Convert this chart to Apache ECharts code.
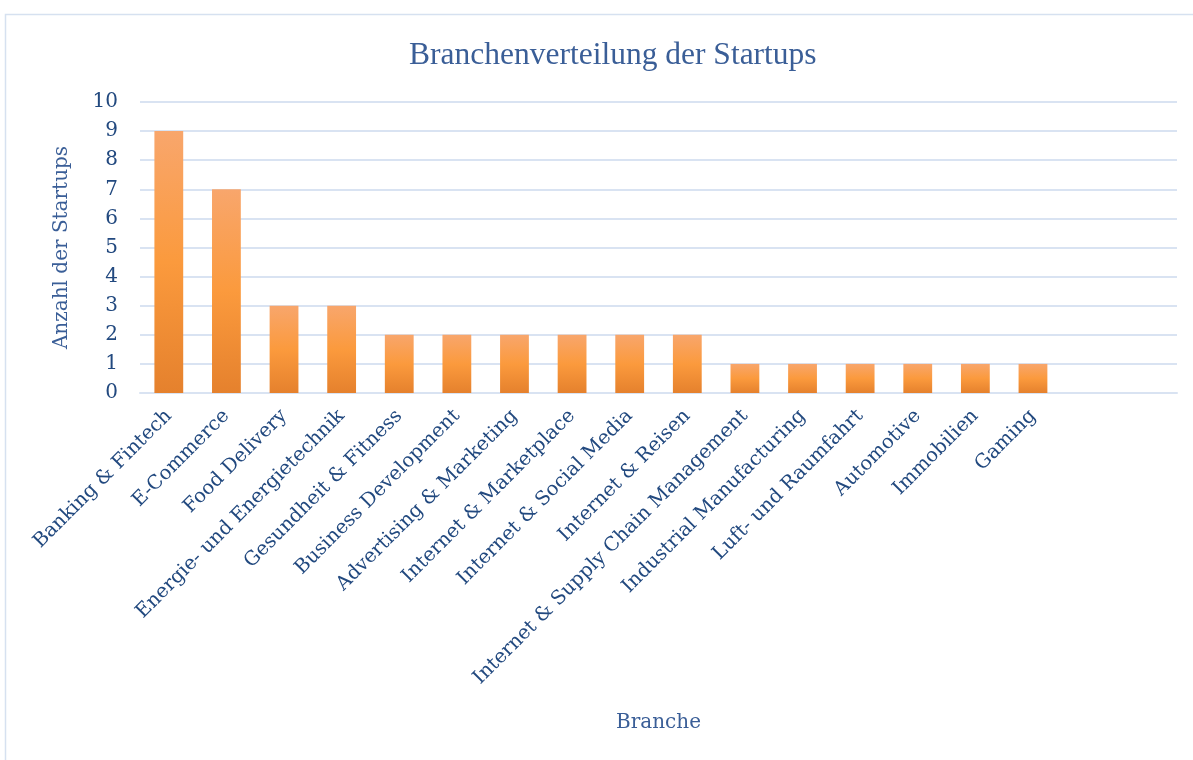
<!DOCTYPE html>
<html>
<head>
<meta charset="utf-8">
<script src="https://cdn.jsdelivr.net/npm/echarts@6/dist/echarts.min.js"></script>
<style>
  html, body { margin: 0; padding: 0; background: #fff; }
  #chart { width: 1193px; height: 760px; }
</style>
</head>
<body>
<div id="chart"></div>
<script>
// Branchen (die letzten zwei Kategorien sind leer)
var categories = [
  'Banking & Fintech', 'E-Commerce', 'Food Delivery', 'Energie- und Energietechnik',
  'Gesundheit & Fitness', 'Business Development', 'Advertising & Marketing',
  'Internet & Marketplace', 'Internet & Social Media', 'Internet & Reisen',
  'Internet & Supply Chain Management', 'Industrial Manufacturing',
  'Luft- und Raumfahrt', 'Automotive', 'Immobilien', 'Gaming', '', ''
];
var counts = [9, 7, 3, 3, 2, 2, 2, 2, 2, 2, 1, 1, 1, 1, 1, 1, null, null];
var yTicks = [0, 10, 1];

var serif = '"DejaVu Serif", "Liberation Serif", serif';
var titleFont = '"Liberation Serif", "DejaVu Serif", serif';
var gridColor = '#D9E3F2';
var textColor = '#22497F';

var chart = echarts.init(document.getElementById('chart'));
var option = {
  animation: false,
  graphic: [{
    type: 'rect',
    shape: { x: 5.5, y: 14.5, width: 1300, height: 1000 },
    style: { fill: 'none', stroke: '#D6E1F0', lineWidth: 1.5 }
  }],
  title: {
    text: 'Branchenverteilung der Startups',
    left: 404,
    top: 35,
    textStyle: { fontFamily: titleFont, fontSize: 31.5, fontWeight: 'normal', color: '#3A5E97' }
  },
  grid: { left: 140, right: 16, top: 102, bottom: 367 },
  xAxis: {
    type: 'category',
    data: categories,
    name: 'Branche',
    nameLocation: 'middle',
    nameGap: 320,
    nameTextStyle: { fontFamily: serif, fontSize: 20, color: '#3A5E97' },
    axisLine: { lineStyle: { color: gridColor, width: 2 } },
    axisTick: { show: false },
    axisLabel: {
      interval: 0,
      rotate: 45,
      margin: 20,
      fontFamily: serif,
      fontSize: 19.5,
      color: textColor
    }
  },
  yAxis: {
    type: 'value',
    min: yTicks[0],
    max: yTicks[1],
    interval: yTicks[2],
    name: 'Anzahl der Startups',
    nameLocation: 'middle',
    nameGap: 68,
    nameTextStyle: { fontFamily: serif, fontSize: 20, color: '#3A5E97' },
    axisLine: { show: false },
    axisTick: { show: false },
    splitLine: { lineStyle: { color: gridColor, width: 2 } },
    axisLabel: { fontFamily: serif, fontSize: 20, color: textColor, margin: 22 }
  },
  series: [{
    type: 'bar',
    data: counts,
    barWidth: '50%',
    itemStyle: {
      color: new echarts.graphic.LinearGradient(0, 0, 0, 1, [
        { offset: 0, color: '#F8A66C' },
        { offset: 0.5, color: '#FB9A3D' },
        { offset: 1, color: '#E5812D' }
      ])
    }
  }]
};
chart.setOption(option);
</script>
</body>
</html>
